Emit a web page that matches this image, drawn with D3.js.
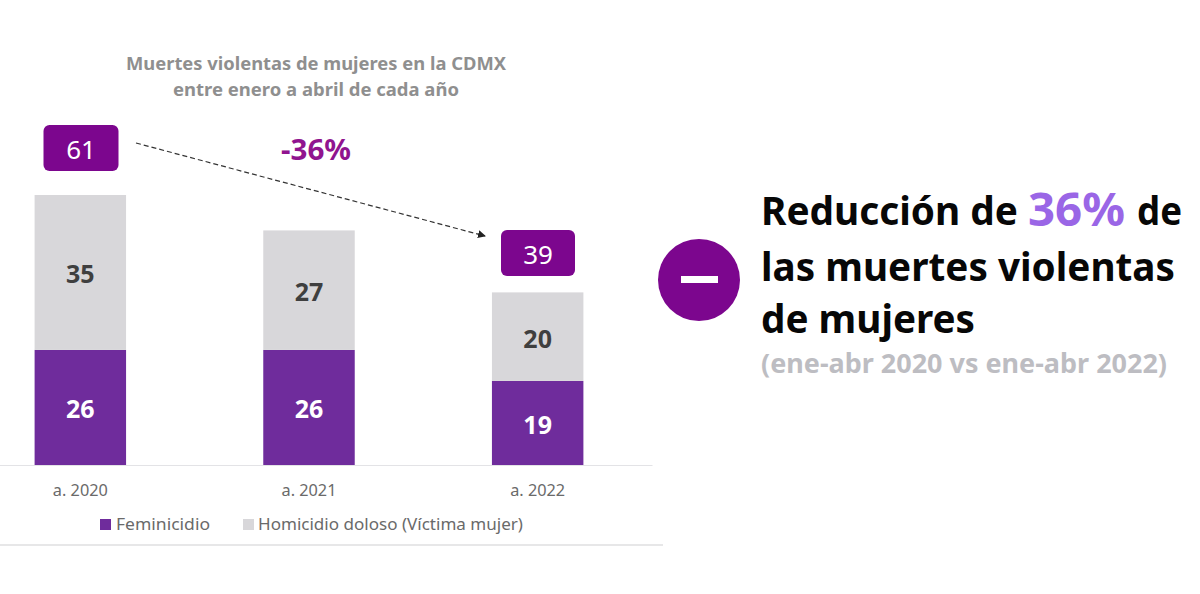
<!DOCTYPE html>
<html><head><meta charset="utf-8">
<script src="https://cdn.jsdelivr.net/npm/d3@7"></script>
<style>html,body{margin:0;padding:0;background:#fff}svg{display:block}text{font-family:"Noto Sans",sans-serif}</style>
</head><body><svg id="c" width="1200" height="594"></svg>
<script>
const categories=["a. 2020","a. 2021","a. 2022"];
const feminicidio=[26,26,19];
const homicidio=[35,27,20];
const totals=[61,null,39];
const titleLines=["Muertes violentas de mujeres en la CDMX","entre enero a abril de cada año"];
const legendLabels=["Feminicidio","Homicidio doloso (Víctima mujer)"];
const changeLabel="-36%";
const subNote="(ene-abr 2020 vs ene-abr 2022)";

const svg=d3.select("#c");
const plotBottom=465, unit=270/61;
const x=d3.scaleBand().domain(categories).range([-34,652]).paddingInner(0.6).paddingOuter(0.3);
const y=d3.scaleLinear().domain([0,61]).range([plotBottom,plotBottom-61*unit]);
const purple="#6f2c9c", grey="#d8d7da", deep="#7c068e";

const t=svg.append("g").attr("text-anchor","middle").attr("fill","#8f8f8f").attr("font-weight",700).attr("font-size",17.5);
titleLines.forEach((s,i)=>t.append("text").attr("x",316).attr("y",70+i*26).attr("textLength",i?286:380).attr("lengthAdjust","spacingAndGlyphs").text(s));

const stacked=categories.map((c,i)=>({c,f:feminicidio[i],h:homicidio[i]}));
const layers=d3.stack().keys(["f","h"])(stacked);
const colors={f:purple,h:grey};
svg.selectAll("g.layer").data(layers).join("g").attr("class","layer").attr("fill",d=>colors[d.key])
 .selectAll("rect").data(d=>d).join("rect")
 .attr("x",d=>x(d.data.c)).attr("width",x.bandwidth())
 .attr("y",d=>y(d[1])).attr("height",d=>y(d[0])-y(d[1]));
layers.forEach(l=>{
  svg.append("g").selectAll("text").data(l).join("text")
   .attr("x",d=>x(d.data.c)+x.bandwidth()/2).attr("y",d=>(y(d[0])+y(d[1]))/2+11)
   .attr("text-anchor","middle").attr("font-weight",700).attr("font-size",25)
   .attr("fill",l.key==="f"?"#fff":"#3f3f3f").text(d=>d[1]-d[0]);
});

const axis=svg.append("g").attr("transform",`translate(0,${plotBottom})`).call(d3.axisBottom(x).tickSize(0).tickPadding(20));
axis.select(".domain").attr("stroke","#e3e3e6").attr("stroke-width",1.2);
axis.selectAll("text").attr("font-size",16).attr("fill","#6a6a6a").style("font-family",'"Noto Sans",sans-serif').attr("textLength",55).attr("lengthAdjust","spacingAndGlyphs");

const boxW=[75,74], boxY=[125,230];
const idx=[0,2];
idx.forEach((k,i)=>{
  const cx=[81,538][i];
  svg.append("rect").attr("x",cx-boxW[i]/2).attr("y",boxY[i]).attr("width",boxW[i]).attr("height",46).attr("rx",6).attr("fill",deep);
  svg.append("text").attr("x",cx).attr("y",boxY[i]+34).attr("text-anchor","middle").attr("font-size",26).attr("fill","#fff").text(totals[k]);
});

const defs=svg.append("defs");
defs.append("marker").attr("id","ah").attr("viewBox","0 0 8 8").attr("refX",7).attr("refY",4).attr("markerWidth",8).attr("markerHeight",8).attr("markerUnits","userSpaceOnUse").attr("orient","auto")
 .append("path").attr("d","M0,0L8,4L0,8Z").attr("fill","#222");
svg.append("line").attr("x1",136).attr("y1",143).attr("x2",485).attr("y2",236).attr("stroke","#333").attr("stroke-width",1.2).attr("stroke-dasharray","5 3").attr("marker-end","url(#ah)");
svg.append("text").attr("x",316).attr("y",160).attr("text-anchor","middle").attr("font-size",28).attr("font-weight",700).attr("fill","#90148f").attr("textLength",70).attr("lengthAdjust","spacingAndGlyphs").text(changeLabel);

const lg=svg.append("g").attr("font-size",16).attr("fill","#6a6a6a");
lg.append("rect").attr("x",100).attr("y",519).attr("width",11).attr("height",11).attr("fill",purple);
lg.append("text").attr("x",116).attr("y",530).attr("textLength",94).attr("lengthAdjust","spacingAndGlyphs").text(legendLabels[0]);
lg.append("rect").attr("x",243).attr("y",519).attr("width",11).attr("height",11).attr("fill",grey);
lg.append("text").attr("x",258).attr("y",530).attr("textLength",265).attr("lengthAdjust","spacingAndGlyphs").text(legendLabels[1]);
svg.append("line").attr("x1",0).attr("x2",663).attr("y1",545).attr("y2",545).attr("stroke","#cfcfd2").attr("stroke-width",1.2);

svg.append("circle").attr("cx",699).attr("cy",280).attr("r",41).attr("fill",deep);
svg.append("rect").attr("x",681).attr("y",276).attr("width",37).attr("height",7).attr("fill","#fff");

const h=svg.append("g").attr("font-size",39).attr("font-weight",700).attr("fill","#070707");
h.append("text").attr("x",761).attr("y",225).attr("textLength",257).attr("lengthAdjust","spacingAndGlyphs").text("Reducción de");
h.append("text").attr("x",1028).attr("y",226).attr("font-size",46).attr("fill","#9a66e6").attr("textLength",97).attr("lengthAdjust","spacingAndGlyphs").text("36%");
h.append("text").attr("x",1137).attr("y",225).attr("textLength",45).attr("lengthAdjust","spacingAndGlyphs").text("de");
h.append("text").attr("x",761).attr("y",281).attr("textLength",414).attr("lengthAdjust","spacingAndGlyphs").text("las muertes violentas");
h.append("text").attr("x",761).attr("y",333).attr("textLength",214).attr("lengthAdjust","spacingAndGlyphs").text("de mujeres");
svg.append("text").attr("x",761).attr("y",373).attr("font-size",26).attr("font-weight",700).attr("fill","#bdbdc2").attr("textLength",406).attr("lengthAdjust","spacingAndGlyphs").text(subNote);
</script></body></html>
